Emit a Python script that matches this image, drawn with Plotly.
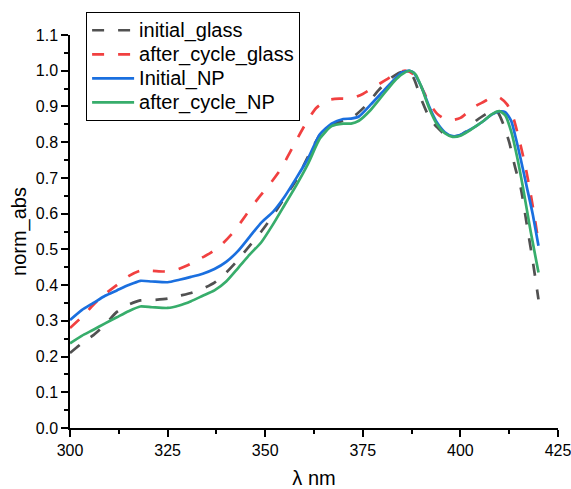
import plotly.graph_objects as go

# ---- data ----
x_initial_glass = [300, 303, 306, 309, 312, 315, 318, 321, 325, 328, 331, 334, 337, 340, 343, 346, 349, 352, 355, 358, 361, 364, 367, 370, 373, 376, 379, 382, 384.5, 386.5, 388, 390, 392, 394, 396, 398, 400, 402, 404, 406, 408, 409.5, 411, 412.5, 414, 415.5, 417, 418.5, 420]
y_initial_glass = [0.21, 0.237, 0.26, 0.29, 0.325, 0.345, 0.357, 0.358, 0.362, 0.37, 0.378, 0.39, 0.407, 0.435, 0.47, 0.51, 0.55, 0.595, 0.645, 0.695, 0.76, 0.82, 0.848, 0.86, 0.875, 0.905, 0.945, 0.978, 0.995, 1.0, 0.98, 0.92, 0.87, 0.842, 0.822, 0.815, 0.82, 0.835, 0.86, 0.875, 0.888, 0.885, 0.85, 0.8, 0.73, 0.67, 0.57, 0.47, 0.36]

x_after_glass = [300, 303, 306, 309, 312, 315, 318, 321, 324, 327, 330, 333, 336, 339, 342, 345, 348, 351, 354, 357, 360, 363, 366, 369, 372, 375, 378, 381, 384, 386, 388, 390, 392, 394, 396, 398, 400, 402, 404, 406, 408, 410, 412, 413.5, 415, 416.5, 418, 419, 420]
y_after_glass = [0.28, 0.31, 0.345, 0.375, 0.4, 0.425, 0.44, 0.44, 0.438, 0.442, 0.455, 0.472, 0.49, 0.515, 0.55, 0.595, 0.64, 0.68, 0.725, 0.785, 0.845, 0.895, 0.918, 0.922, 0.922, 0.935, 0.955, 0.975, 0.995, 1.0, 0.99, 0.955, 0.91, 0.88, 0.865, 0.862, 0.868, 0.885, 0.902, 0.913, 0.925, 0.925, 0.905, 0.87, 0.81, 0.74, 0.655, 0.59, 0.52]

x_initial_np = [300, 303, 306, 309, 312, 315, 318, 321, 325, 328, 331, 334, 337, 340, 343, 346, 349, 352, 355, 358, 361, 364, 367, 370, 372, 374, 377, 380, 383, 385, 387, 388, 390, 392, 394, 396, 398, 400, 402, 404, 406, 408, 410, 411.5, 413, 414, 415.5, 417, 418.5, 420]
y_initial_np = [0.302, 0.33, 0.35, 0.37, 0.385, 0.4, 0.412, 0.41, 0.408, 0.415, 0.423, 0.432, 0.445, 0.465, 0.495, 0.535, 0.575, 0.605, 0.648, 0.7, 0.755, 0.822, 0.852, 0.865, 0.866, 0.872, 0.905, 0.94, 0.975, 0.995, 1.0, 0.995, 0.955, 0.9, 0.855, 0.828, 0.817, 0.82, 0.832, 0.845, 0.86, 0.877, 0.886, 0.884, 0.86, 0.82, 0.75, 0.675, 0.6, 0.51]

x_after_np = [300, 303, 306, 309, 312, 315, 318, 321, 325, 328, 331, 334, 337, 340, 343, 346, 349, 352, 355, 358, 361, 364, 367, 370, 372, 374, 377, 380, 383, 385, 387, 388.5, 390, 392, 394, 396, 398, 400, 402, 404, 406, 408, 410, 411.5, 413, 414.5, 416, 418, 420]
y_after_np = [0.237, 0.258, 0.275, 0.293, 0.31, 0.327, 0.34, 0.338, 0.336, 0.343, 0.355, 0.37, 0.385, 0.41, 0.447, 0.485, 0.52, 0.57, 0.625, 0.68, 0.74, 0.81, 0.845, 0.852, 0.852, 0.86, 0.89, 0.93, 0.97, 0.99, 1.0, 0.99, 0.955, 0.895, 0.85, 0.825, 0.815, 0.818, 0.83, 0.845, 0.86, 0.878, 0.887, 0.875, 0.83, 0.76, 0.675, 0.55, 0.435]

x_ticks = [300, 325, 350, 375, 400, 425]
y_ticks = [0.0, 0.1, 0.2, 0.3, 0.4, 0.5, 0.6, 0.7, 0.8, 0.9, 1.0, 1.1]

series_names = ["initial_glass", "after_cycle_glass", "Initial_NP", "after_cycle_NP"]

series = [
    (series_names[0], x_initial_glass, y_initial_glass, "#515151", "12px,14px"),
    (series_names[1], x_after_glass, y_after_glass, "#F14040", "12px,14px"),
    (series_names[2], x_initial_np, y_initial_np, "#1A6FDF", "solid"),
    (series_names[3], x_after_np, y_after_np, "#37AD6B", "solid"),
]

fig = go.Figure()
for name, xs, ys, color, dash in series:
    fig.add_trace(go.Scatter(
        x=xs, y=ys, mode="lines",
        name='<span style="font-size:20px">' + name + '</span>',
        line=dict(color=color, width=2.7, dash=dash, shape="spline", smoothing=0.6),
    ))

FAM = "Liberation Sans, Arial, sans-serif"
axis_font = dict(family=FAM, size=16, color="black")

fig.update_layout(
    width=571, height=489,
    margin=dict(l=70, r=13, t=35, b=61, autoexpand=False),
    paper_bgcolor="white", plot_bgcolor="white",
    font=axis_font,
    showlegend=True,
    legend=dict(
        x=0.033, y=1.058, xanchor="left", yanchor="top",
        bordercolor="black", borderwidth=1, bgcolor="white",
        font=dict(family=FAM, size=16.2, color="black"),
        itemwidth=42, tracegroupgap=0,
    ),
    xaxis=dict(
        range=[300, 425], tickvals=x_ticks, ticktext=[str(v) for v in x_ticks],
        automargin=False, ticklabeloverflow="allow",
        showgrid=False, zeroline=False, showline=True, linecolor="black", linewidth=1.5,
        ticks="outside", ticklen=7, tickwidth=1.5, tickcolor="black",
        minor=dict(ticks="outside", ticklen=4, tickwidth=1.5, tickcolor="black", dtick=12.5, tick0=300),
        title=dict(text="λ nm", font=dict(family=FAM, size=20, color="black"), standoff=27),
        tickfont=axis_font,
    ),
    yaxis=dict(
        range=[0, 1.1], tickvals=y_ticks, ticktext=["%.1f" % v for v in y_ticks],
        automargin=False, ticklabeloverflow="allow",
        showgrid=False, zeroline=False, showline=True, linecolor="black", linewidth=1.5,
        ticks="outside", ticklen=7, tickwidth=1.5, tickcolor="black",
        minor=dict(ticks="outside", ticklen=4, tickwidth=1.5, tickcolor="black", dtick=0.05, tick0=0),
        title=dict(text="norm_abs", font=dict(family=FAM, size=20, color="black"), standoff=4),
        tickfont=axis_font,
    ),
)

fig.write_html("out.html")
